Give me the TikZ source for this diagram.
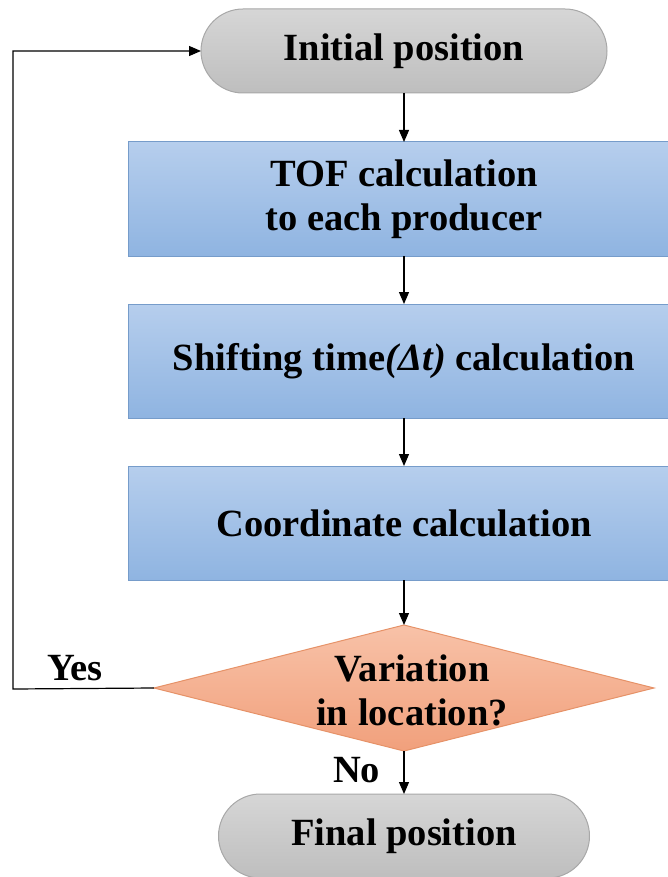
\documentclass[tikz,border=0pt]{standalone}
\usepackage{fontspec}
\setmainfont{Liberation Serif}
\usetikzlibrary{positioning, shapes.geometric, shapes.misc, arrows.meta}

\definecolor{termtop}{RGB}{214,214,214}
\definecolor{termbot}{RGB}{190,190,190}
\definecolor{termline}{RGB}{168,168,168}
\definecolor{proctop}{RGB}{182,206,237}
\definecolor{procbot}{RGB}{143,180,225}
\definecolor{procline}{RGB}{118,156,202}
\definecolor{dectop}{RGB}{248,194,168}
\definecolor{decbot}{RGB}{241,160,124}
\definecolor{decline}{RGB}{230,146,104}

\begin{document}
\begin{tikzpicture}[x=1pt, y=1pt, node distance=48pt,
    font=\fontsize{38.5}{44}\selectfont\bfseries,
    term/.style={rounded rectangle, draw=termline, line width=1pt,
      top color=termtop, bottom color=termbot, minimum height=84pt,
      inner sep=0pt, outer sep=0pt},
    proc/.style={rectangle, draw=procline, line width=1pt,
      top color=proctop, bottom color=procbot, minimum width=552pt,
      minimum height=114pt, align=center, inner sep=0pt, outer sep=0pt},
    decision/.style={diamond, draw=decline, line width=1pt,
      top color=dectop, bottom color=decbot, minimum width=500pt,
      minimum height=126pt, inner sep=0pt, outer sep=0pt},
    flow/.style={-{Triangle[length=12pt, width=10pt]}, line width=1.2pt}]
    \clip (0,0) rectangle (668,-877);
    \node[term, minimum width=406pt] (init) at (404,-51) {Initial position};
    \node[proc, below=49pt of init] (tof) {TOF calculation\\to each producer};
    \node[proc, below=of tof] (shift) {Shifting time\textit{(Δt)} calculation};
    \node[proc, below=of shift] (coord) {Coordinate calculation};
    \node[decision, below=45pt of coord,
      label={[align=center, xshift=8pt, yshift=-2pt]center:Variation\\in location?}] (var) {};
    \node[term, minimum width=371pt, below=43pt of var] (final) {Final position};
    \coordinate (back) at (13,-689);
    \path[flow] (init) edge (tof) (tof) edge (shift) (shift) edge (coord)
              (coord) edge (var)
              (var) edge node[left=20pt, pos=0.44] {No} (final);
    \draw[flow] (var.west) -- node[above=4pt, pos=0.56] {Yes} (back) |- (init.west);
  \end{tikzpicture}
\end{document}
